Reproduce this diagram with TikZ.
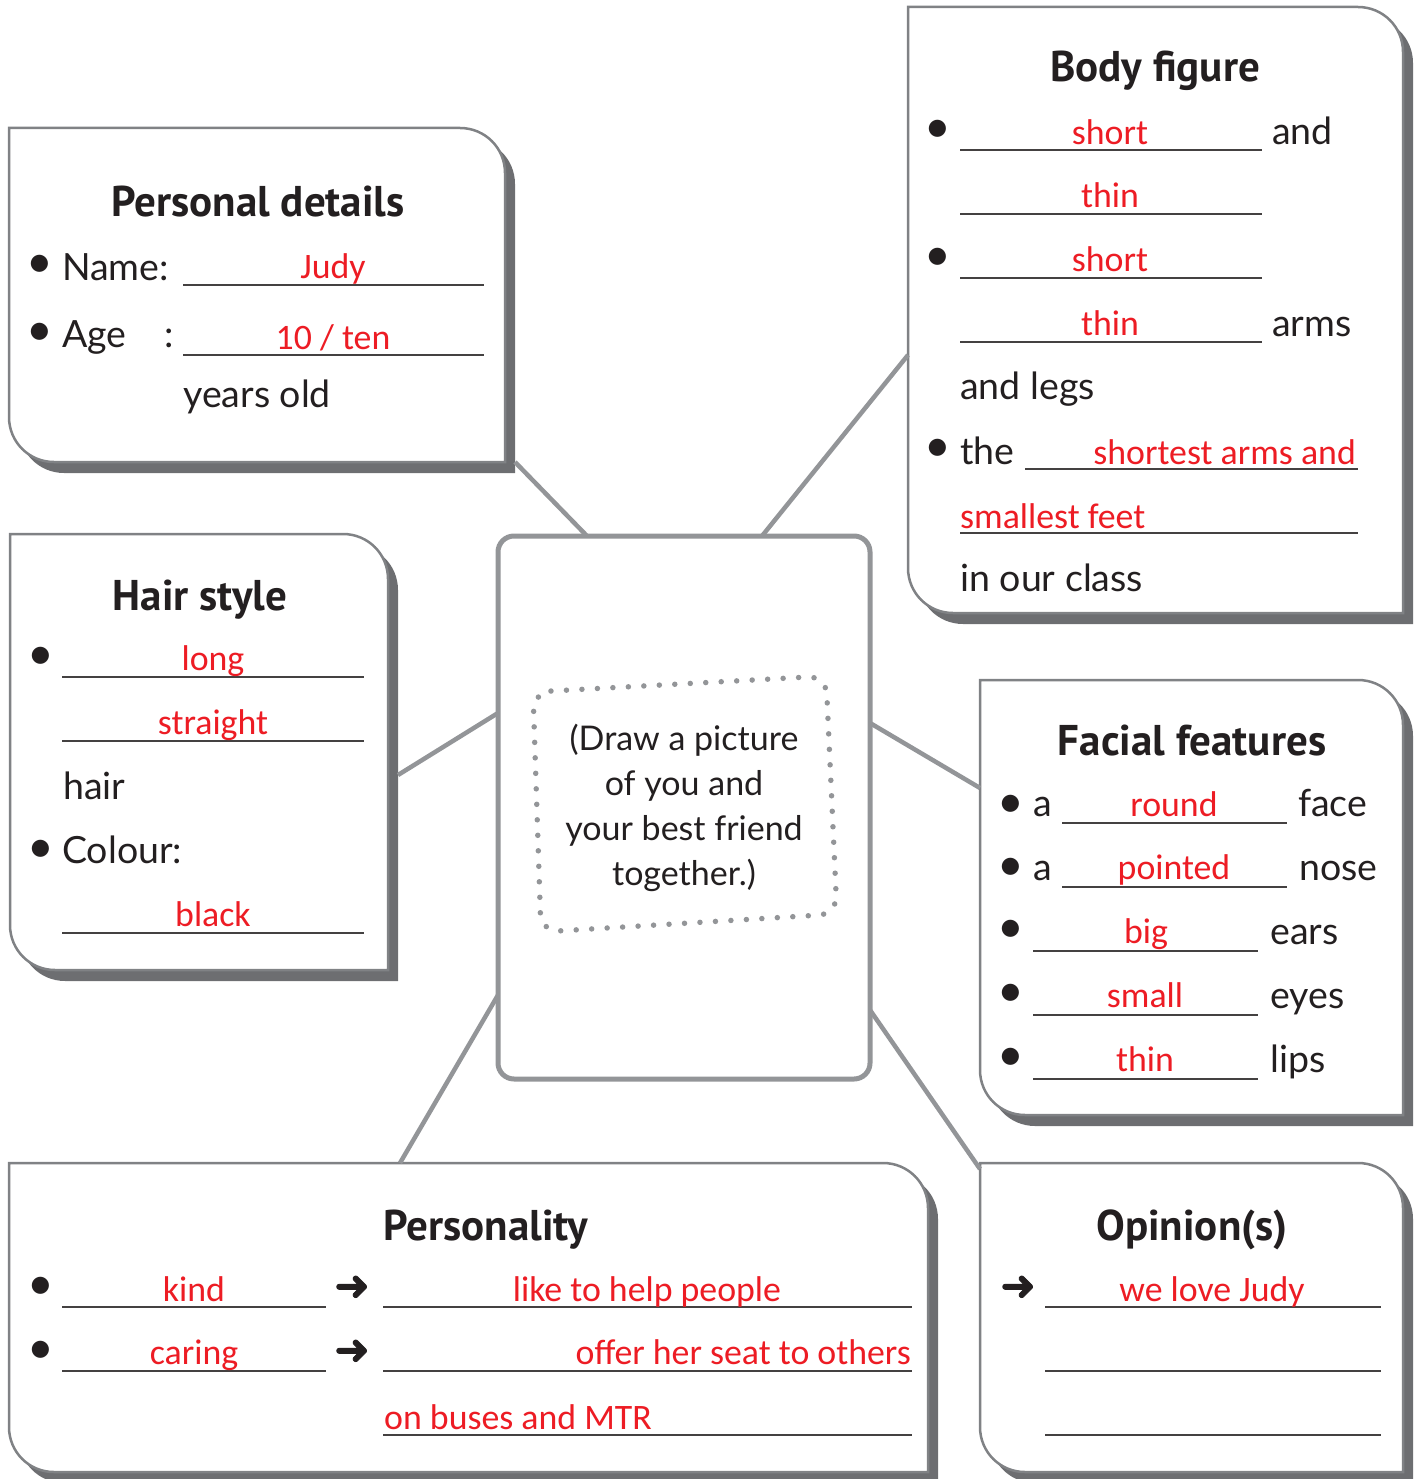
\documentclass[tikz,border=0pt]{standalone}
\usepackage{fontspec}
\setmainfont{Lato}
\newfontfamily\headfont{PT Sans}
\newfontfamily\ansfont{Carlito}
\newfontfamily\symfont{DejaVu Sans}[FakeBold=2]
\usetikzlibrary{positioning}

\definecolor{ansred}{RGB}{237,28,36}
\definecolor{shadowgray}{RGB}{109,110,113}
\definecolor{edgegray}{RGB}{128,130,133}
\definecolor{linkgray}{RGB}{147,149,152}
\definecolor{inkblack}{RGB}{35,31,32}

\newcommand{\cardshape}[4]{(#1,#2) -- ({#3-45},#2) .. controls ({#3-20},#2) and (#3,{#2+20}) .. (#3,{#2+45}) -- (#3,#4) -- ({#1+45},#4) .. controls ({#1+20},#4) and (#1,{#4-20}) .. (#1,{#4-45}) -- cycle}
\newcommand{\card}[4]{%
  \fill[shadowgray, shift={(10,11)}] \cardshape{#1}{#2}{#3}{#4};
  \path[cardface] \cardshape{#1}{#2}{#3}{#4};}

\begin{document}
\begin{tikzpicture}[x=1pt, y=-1pt,
        cardface/.style={fill=white, draw=edgegray, line width=2.5pt},
        cardtitle/.style={font={\headfont\bfseries\fontsize{43}{50}\selectfont}, text=inkblack, anchor=base, inner sep=0},
        cardtext/.style={font={\fontsize{37.5}{44}\selectfont}, text=inkblack, anchor=base west, inner sep=0},
        answer/.style={font={\ansfont\fontsize{35.8}{42}\selectfont}, text=ansred, anchor=base, inner sep=0},
        bulletmark/.style={font={\fontsize{46}{46}\selectfont}, text=inkblack, inner sep=0},
        arrowmark/.style={font={\symfont\fontsize{42}{42}\selectfont}, text=inkblack, inner sep=0},
        blankline/.style={line width=1.8pt, draw=inkblack!85},
        spoke/.style={line width=4.5pt, draw=linkgray},
        picframe/.style={draw=linkgray, line width=5pt, rounded corners=16pt, fill=white, inner sep=0, outer sep=0},
        dotframe/.style={draw=linkgray, line width=5.5pt, line cap=round, dash pattern=on 0pt off 15.5pt, rounded corners=18pt}]
            \useasboundingbox (0,0) rectangle (1424,1479);

            \card{9}{128}{505}{462}
            \card{908}{7}{1403}{613}
            \card{10}{534}{388}{970}
            \card{980}{680}{1403}{1115}
            \card{9}{1163}{928}{1472}
            \card{980}{1163}{1403}{1472}

            \node[picframe, minimum width=372pt, minimum height=543pt] (pic) at (684,807.5) {};
            \draw[dotframe] (533,692) -- (826,676) -- (837,914) -- (541,932) -- cycle;
            \node[align=center, font={\fontsize{34}{45}\selectfont}, text=inkblack] (hint) at (684,808) {(Draw a picture\\of you and\\your best friend\\together.)};

            \coordinate (pd-tail) at (515,462);
            \coordinate (bf-tail) at (908,355);
            \coordinate (hs-tail) at (398,775);
            \coordinate (ff-tail) at (980,788);
            \coordinate (ps-tail) at (400,1163);
            \coordinate (op-tail) at (980,1169);
            \draw[spoke] (pd-tail) -- ([xshift=89pt]pic.north west);
            \draw[spoke] (bf-tail) -- ([xshift=264pt]pic.north west);
            \draw[spoke] (hs-tail) -- ([yshift=-177pt]pic.north west);
            \draw[spoke] (ff-tail) -- ([yshift=-187pt]pic.north east);
            \draw[spoke] (ps-tail) -- ([yshift=84pt]pic.south west);
            \draw[spoke] (op-tail) -- ([yshift=69pt]pic.south east);

            % personal details
            \node[cardtitle] (pd-title) at (258,217) {Personal details};
            \node[bulletmark] (pd-b1) at (40,266) {•};
            \node[bulletmark] (pd-b2) at (40,334) {•};
            \node[cardtext] (pd-name) at (62,280) {Name:};
            \node[cardtext] (pd-age) at (62,347) {Age};
            \node[cardtext] (pd-colon) at (164,347) {:};
            \draw[blankline] (183,285) -- (484,285);
            \draw[blankline] (183,355) -- (484,355);
            \node[answer] (pd-judy) at (333,278) {Judy};
            \node[answer] (pd-ten) at (333,349) {10 / ten};
            \node[cardtext] (pd-years) at (183,407) {years old};

            % body figure
            \node[cardtitle] (bf-title) at (1155,82) {Body figure};
            \node[bulletmark] (bf-b1) at (938,131) {•};
            \node[bulletmark] (bf-b2) at (938,259) {•};
            \node[bulletmark] (bf-b3) at (938,450) {•};
            \draw[blankline] (960,150) -- (1262,150);
            \draw[blankline] (960,214) -- (1262,214);
            \draw[blankline] (960,278) -- (1262,278);
            \draw[blankline] (960,342) -- (1262,342);
            \draw[blankline] (1025,469) -- (1358,469);
            \draw[blankline] (960,533) -- (1358,533);
            \node[answer] (bf-a1) at (1110,145) {short};
            \node[answer] (bf-a2) at (1110,208) {thin};
            \node[answer] (bf-a3) at (1110,271) {short};
            \node[answer] (bf-a4) at (1110,335) {thin};
            \node[answer, anchor=base east] (bf-a5) at (1356,464) {shortest arms and};
            \node[answer, anchor=base west] (bf-a6) at (960,528) {smallest feet};
            \node[cardtext] (bf-and) at (1272,145) {and};
            \node[cardtext] (bf-arms) at (1272,336) {arms};
            \node[cardtext] (bf-legs) at (960,399) {and legs};
            \node[cardtext] (bf-the) at (960,464) {the};
            \node[cardtext] (bf-class) at (960,591) {in our class};

            % hair style
            \node[cardtitle] (hs-title) at (200,610) {Hair style};
            \node[bulletmark] (hs-b1) at (41,658) {•};
            \node[bulletmark] (hs-b2) at (41,851) {•};
            \draw[blankline] (62,677) -- (364,677);
            \draw[blankline] (62,741) -- (364,741);
            \draw[blankline] (62,933) -- (364,933);
            \node[answer] (hs-a1) at (213,670) {long};
            \node[answer] (hs-a2) at (213,734) {straight};
            \node[answer] (hs-a3) at (213,926) {black};
            \node[cardtext] (hs-hair) at (63,799) {hair};
            \node[cardtext] (hs-colour) at (62,863) {Colour:};

            % facial features
            \node[cardtitle] (ff-title) at (1192,755) {Facial features};
            \node[bulletmark] (ff-b1) at (1011,806) {•};
            \node[bulletmark] (ff-b2) at (1011,869) {•};
            \node[bulletmark] (ff-b3) at (1011,931) {•};
            \node[bulletmark] (ff-b4) at (1011,995) {•};
            \node[bulletmark] (ff-b5) at (1011,1059) {•};
            \node[cardtext] (ff-a1w) at (1033,816) {a};
            \node[cardtext] (ff-a2w) at (1033,880) {a};
            \draw[blankline] (1062,823) -- (1287,823);
            \draw[blankline] (1062,887) -- (1287,887);
            \draw[blankline] (1033,951) -- (1258,951);
            \draw[blankline] (1033,1015) -- (1258,1015);
            \draw[blankline] (1033,1079) -- (1258,1079);
            \node[answer] (ff-a1) at (1174,816) {round};
            \node[answer] (ff-a2) at (1174,879) {pointed};
            \node[answer] (ff-a3) at (1146,943) {big};
            \node[answer] (ff-a4) at (1145,1007) {small};
            \node[answer] (ff-a5) at (1145,1071) {thin};
            \node[cardtext] (ff-face) at (1298,816) {face};
            \node[cardtext] (ff-nose) at (1299,880) {nose};
            \node[cardtext] (ff-ears) at (1270,944) {ears};
            \node[cardtext] (ff-eyes) at (1270,1008) {eyes};
            \node[cardtext] (ff-lips) at (1270,1072) {lips};

            % personality
            \node[cardtitle] (ps-title) at (486,1240) {Personality};
            \node[bulletmark] (ps-b1) at (41,1288) {•};
            \node[bulletmark] (ps-b2) at (41,1352) {•};
            \node[arrowmark] (ps-r1) at (352,1288) {➜};
            \node[arrowmark] (ps-r2) at (352,1352) {➜};
            \draw[blankline] (62,1307) -- (326,1307);
            \draw[blankline] (62,1371) -- (326,1371);
            \draw[blankline] (383,1307) -- (912,1307);
            \draw[blankline] (383,1371) -- (912,1371);
            \draw[blankline] (383,1435) -- (912,1435);
            \node[answer] (ps-a1) at (194,1301) {kind};
            \node[answer] (ps-a2) at (194,1364) {caring};
            \node[answer] (ps-a3) at (647,1301) {like to help people};
            \node[answer, anchor=base east] (ps-a4) at (911,1364) {offer her seat to others};
            \node[answer, anchor=base west] (ps-a5) at (384,1429) {on buses and MTR};

            % opinion
            \node[cardtitle] (op-title) at (1192,1240) {Opinion(s)};
            \node[arrowmark] (op-r1) at (1018,1288) {➜};
            \draw[blankline] (1045,1307) -- (1381,1307);
            \draw[blankline] (1045,1371) -- (1381,1371);
            \draw[blankline] (1045,1435) -- (1381,1435);
            \node[answer] (op-a1) at (1212,1301) {we love Judy};
        \end{tikzpicture}
\end{document}
